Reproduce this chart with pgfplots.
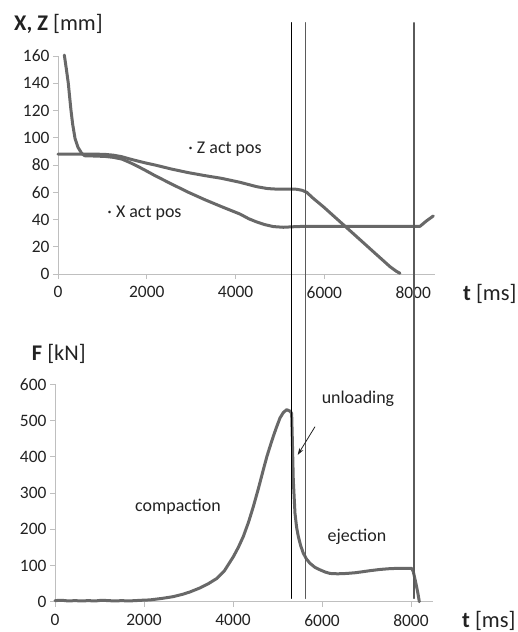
\documentclass[border=0pt]{standalone}
\usepackage{fontspec}
\setmainfont{Carlito}
\usepackage{pgfplots}
\pgfplotsset{compat=1.18}
\usetikzlibrary{arrows.meta}
\definecolor{curve}{HTML}{686868}
\definecolor{axgray}{HTML}{BFBFBF}
\definecolor{txt}{HTML}{222222}
\definecolor{vline}{HTML}{5A5A5A}
\pgfplotsset{myax/.style={
  scale only axis,
  axis x line*=bottom, axis y line*=left,
  axis line style={axgray, line width=0.8bp, -},
  tick style={axgray, line width=0.8bp},
  tick align=outside, major tick length=5bp,
  xmin=0, xmax=8500, xtick={0,2000,...,8000},
  ticklabel style={font=\fontsize{17.5}{20}\selectfont, text=txt},
  xticklabel style={yshift=-4bp},
  /pgf/number format/assume math mode=true,
  /pgf/number format/1000 sep={},
  clip=false,
  every axis plot/.append style={line join=round, line cap=round},
}}
\begin{document}
\begin{tikzpicture}
\path[use as bounding box] (0,0) rectangle (518bp,-632bp);

% ---------- top panel ----------
\begin{axis}[myax, at={(58bp,-274bp)}, anchor=south west,
  width=377.4bp, height=218bp, ymin=0, ymax=160, ytick={0,20,...,160}]
\addplot[curve, line width=3bp] coordinates {
 (142,160.7) (190,150) (232,140) (262,130) (293,120) (330,110) (383,99.6)
 (450,93) (533,88.6) (600,86.8) (800,86.6) (1058,86.3) (1250,85.6) (1434,84.4)
 (1620,81.8) (1809,78.8) (2000,75.5) (2185,72.2) (2560,66) (2935,60) (3310,54.5)
 (3686,49.4) (3900,46.6) (4099,44) (4300,40.5) (4475,38.2) (4650,36.3)
 (4850,34.8) (5075,34.3) (5375,34.8) (5600,35) (6500,35) (7500,35) (8153,35)
 (8300,39) (8453,42.6)};
\addplot[curve, line width=3bp] coordinates {
 (0,88) (500,88) (800,88) (1058,87.8) (1250,87.2) (1434,86.1) (1620,84.4)
 (1809,82.8) (2000,81.3) (2185,80) (2560,77) (2935,74.4) (3310,72.2) (3686,70.2)
 (4099,67.3) (4475,64.1) (4700,62.8) (4850,62.4) (5100,62.3) (5375,62.2)
 (5500,61.4) (5600,60) (5750,55.5) (5975,49.4) (6351,38.4) (6727,27.4)
 (7101,16.4) (7477,5.4) (7620,2) (7703,0.5)};
\node[font=\fontsize{18}{21}\selectfont, text=txt] at (axis cs:3761,91.7) {· Z act pos};
\node[font=\fontsize{18}{21}\selectfont, text=txt] at (axis cs:1948,44.8) {· X act pos};
\end{axis}

% ---------- bottom panel ----------
\begin{axis}[myax, at={(55bp,-601.7bp)}, anchor=south west,
  width=378.25bp, height=217.4bp, ymin=0, ymax=600, ytick={0,100,...,600}]
\addplot[curve, line width=3bp] coordinates {
 (0,3) (150,4) (300,2) (450,3) (600,2) (750,3) (900,2) (1050,4) (1200,3)
 (1350,2) (1500,3) (1650,2) (1800,3) (1950,4) (2135,5) (2400,9) (2658,14)
 (2884,21) (3034,27) (3258,38) (3450,50) (3634,64) (3800,84) (4007,124)
 (4120,150) (4232,180) (4350,220) (4456,262) (4570,312) (4681,364) (4760,400)
 (4831,428) (4910,458) (4982,483) (5056,507) (5130,522) (5206,530) (5281,526)
 (5318,520) (5335,440) (5355,336) (5393,244) (5430,205) (5468,180) (5520,155)
 (5580,134) (5650,118) (5730,106) (5840,95) (5955,88) (6070,82) (6180,78)
 (6350,77) (6554,78) (6750,80) (6929,83) (7100,86) (7303,89) (7500,91)
 (7678,92) (7850,92) (8015,92) (8052,83) (8090,62) (8127,41) (8160,20) (8187,0)};
\addplot[black, line width=1bp] coordinates {(5319,9) (5319,1598)};
\addplot[vline, line width=1.2bp] coordinates {(5634,9) (5634,1598)};
\addplot[vline, line width=1.2bp] coordinates {(8067,9) (8067,1598)};
\draw[txt, line width=0.8bp, -{Stealth[length=7bp,width=4.5bp]}] (axis cs:5843,483) -- (axis cs:5454,405);
\node[font=\fontsize{18}{21}\selectfont, text=txt] at (axis cs:2764,262) {compaction};
\node[font=\fontsize{18}{21}\selectfont, text=txt] at (axis cs:6809,560) {unloading};
\node[font=\fontsize{18}{21}\selectfont, text=txt] at (axis cs:6787,179) {ejection};
\end{axis}

% ---------- axis titles ----------
\node[anchor=base west, inner sep=0, font=\fontsize{22.5}{26}\selectfont, text=txt] at (14bp,-30bp) {\textbf{X, Z} [mm]};
\node[anchor=base west, inner sep=0, font=\fontsize{22.5}{26}\selectfont, text=txt] at (31.7bp,-360bp) {\textbf{F} [kN]};
\node[anchor=base west, inner sep=0, font=\fontsize{22.5}{26}\selectfont, text=txt] at (463bp,-300bp) {\textbf{t} [ms]};
\node[anchor=base west, inner sep=0, font=\fontsize{22.5}{26}\selectfont, text=txt] at (462bp,-627bp) {\textbf{t} [ms]};
\end{tikzpicture}
\end{document}
